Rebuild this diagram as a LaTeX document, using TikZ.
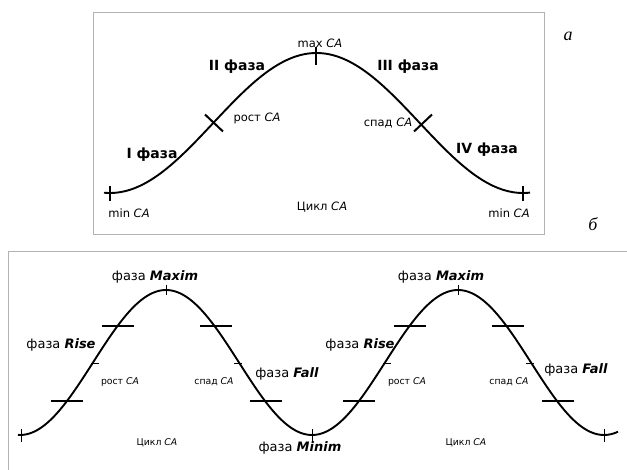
\documentclass[tikz,border=0pt]{standalone}
\usepackage{fontspec}
\setmainfont{DejaVu Sans}
\newfontfamily\serifit{Liberation Serif}
\begin{document}
\begin{tikzpicture}[x=1pt,y=-1pt,
  frame/.style={draw=black!30,line width=0.9pt},
  curve/.style={line width=1.9pt,line join=round},
  tickbig/.style={line width=2pt},
  ticksmall/.style={line width=1pt},
  phase/.style={font=\fontsize{14}{16}\selectfont\bfseries,inner sep=0pt},
  comic/.style={font=\fontsize{11.5}{13}\selectfont,inner sep=0pt},
  small/.style={font=\fontsize{9.3}{11}\selectfont,inner sep=0pt},
  faza/.style={font=\fontsize{13}{15}\selectfont,inner sep=0pt},
  letter/.style={font=\fontsize{18}{20}\selectfont\serifit\itshape,inner sep=0pt}]
\useasboundingbox (0,0) rectangle (627,470);
% ---- panel a ----
\draw[frame] (93,12) rectangle (544,234);
\draw[curve] plot[domain=104:530,samples=150] (\x,{123+70*cos((\x-110)*0.87167)});
\draw[tickbig] (110,186) -- (110,201);
\draw[tickbig] (316,47) -- (316,65);
\draw[tickbig] (523,186) -- (523,201);
\draw[tickbig] (205,114.5) -- (223,131.5);
\draw[tickbig] (414,131.5) -- (432,114.5);
\node[comic] (maxca) at (320,43) {max \textit{CA}};
\node[phase] (f2) at (237,67) {II фаза};
\node[phase] (f3) at (408,67) {III фаза};
\node[comic] (rost) at (257,118) {рост \textit{CA}};
\node[comic] (spad) at (388,123) {спад \textit{CA}};
\node[phase] (f1) at (152,155) {I фаза};
\node[phase] (f4) at (487,150) {IV фаза};
\node[comic] (minl) at (129,213) {min \textit{CA}};
\node[comic] (cycle) at (322,207) {Цикл \textit{CA}};
\node[comic] (minr) at (509,213) {min \textit{CA}};
\node[letter] (la) at (568,36) {а};
\node[letter] (lb) at (593,224) {б};
% ---- panel b ----
\draw[frame] (8,471) -- (8,251) -- (628,251);
\draw[curve] plot[domain=18:618,samples=250] (\x,{362.5+72.5*cos((\x-20)*1.23288)});
\foreach \xx in {67,359} \draw[tickbig] (\xx-16,401) -- (\xx+16,401);
\foreach \xx in {118,410} \draw[tickbig] (\xx-16,326) -- (\xx+16,326);
\foreach \xx in {216,508} \draw[tickbig] (\xx-16,326) -- (\xx+16,326);
\foreach \xx in {266,558} \draw[tickbig] (\xx-16,401) -- (\xx+16,401);
\foreach \xx in {94,386} \draw[ticksmall] (\xx-3,363.5) -- (\xx+5,363.5);
\foreach \xx in {238,530} \draw[ticksmall] (\xx-4,363.5) -- (\xx+4,363.5);
\foreach \xx in {166,458} \draw[ticksmall] (\xx,285) -- (\xx,295);
\foreach \xx in {21,312,604} \draw[ticksmall] (\xx,429) -- (\xx,442);
\node[faza] (max1) at (155,277) {фаза \textbf{\textit{Maxim}}};
\node[faza] (max2) at (441,277) {фаза \textbf{\textit{Maxim}}};
\node[faza] (rise1) at (61,345) {фаза \textbf{\textit{Rise}}};
\node[faza] (rise2) at (360,345) {фаза \textbf{\textit{Rise}}};
\node[faza] (fall1) at (287,374) {фаза \textbf{\textit{Fall}}};
\node[faza] (fall2) at (576,370) {фаза \textbf{\textit{Fall}}};
\node[faza] (minim) at (300,448) {фаза \textbf{\textit{Minim}}};
\node[small] (r1) at (120,382) {рост \textit{CA}};
\node[small] (r2) at (407,382) {рост \textit{CA}};
\node[small] (s1) at (214,382) {спад \textit{CA}};
\node[small] (s2) at (509,382) {спад \textit{CA}};
\node[small] (c1) at (157,443) {Цикл \textit{CA}};
\node[small] (c2) at (466,443) {Цикл \textit{CA}};
\end{tikzpicture}
\end{document}
